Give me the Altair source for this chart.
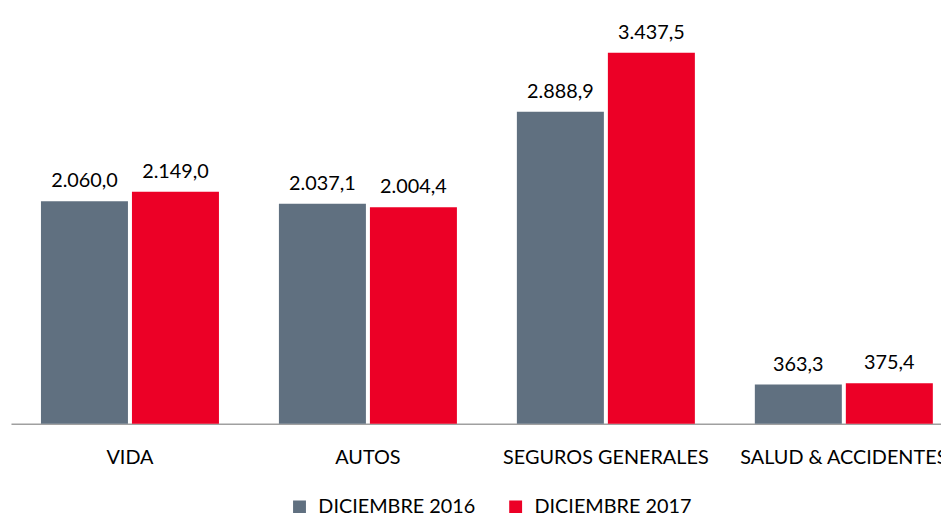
import altair as alt
import pandas as pd

categories = ["VIDA", "AUTOS", "SEGUROS GENERALES", "SALUD & ACCIDENTES"]
series = ["DICIEMBRE 2016", "DICIEMBRE 2017"]
values_2016 = [2060.0, 2037.1, 2888.9, 363.3]
values_2017 = [2149.0, 2004.4, 3437.5, 375.4]
colors = ["#607080", "#EC0026"]


def fmt(v):
    s = f"{v:,.1f}"
    return s.replace(",", "X").replace(".", ",").replace("X", ".")


rows = []
for c, a, b in zip(categories, values_2016, values_2017):
    rows.append({"cat": c, "serie": series[0], "val": a, "lbl": fmt(a)})
    rows.append({"cat": c, "serie": series[1], "val": b, "lbl": fmt(b)})
df = pd.DataFrame(rows)

FONT = "Lato"

x = alt.X(
    "cat:N",
    sort=categories,
    title=None,
    scale=alt.Scale(range=[0, 960], paddingInner=0.252, paddingOuter=0.126),
    axis=alt.Axis(
        labelAngle=0,
        labelFont=FONT,
        labelFontSize=20,
        labelColor="#000000",
        labelBaseline="alphabetic",
        labelPadding=40,
        labelLimit=0,
        ticks=False,
        tickSize=0,
        grid=False,
        domainColor="#A0A0A0",
        domainWidth=1.5,
        labelOverlap=False,
        labelBound=False,
        labelFlush=False,
    ),
)
xo = alt.XOffset("serie:N", sort=series, scale=alt.Scale(paddingInner=0.044, paddingOuter=0))
y = alt.Y("val:Q", scale=alt.Scale(domain=[0, 3500]), axis=None)

bars = alt.Chart(df).mark_bar().encode(
    x=x,
    xOffset=xo,
    y=y,
    color=alt.Color(
        "serie:N",
        sort=series,
        scale=alt.Scale(domain=series, range=colors),
        legend=alt.Legend(
            title=None,
            orient="none",
            legendX=281,
            legendY=455,
            direction="horizontal",
            symbolType="square",
            symbolSize=169,
            symbolStrokeWidth=0,
            labelFont=FONT,
            labelFontSize=20,
            labelColor="#000000",
            labelOffset=9,
            labelLimit=0,
            columnPadding=30,
        ),
    ),
)

labels = alt.Chart(df).mark_text(
    font=FONT, fontSize=20, color="#000000", baseline="alphabetic", dy=-14
).encode(x=x, xOffset=xo, y=y, text="lbl:N")

chart = (
    alt.layer(bars, labels)
    .properties(
        width=938,
        height=381,
        autosize=alt.AutoSizeParams(type="none"),
        padding={"left": 3, "top": 36, "right": 0, "bottom": 100},
        view=alt.ViewBackground(stroke="transparent", strokeOpacity=0, strokeWidth=0),
    )
    .configure_view(stroke="transparent", strokeOpacity=0, strokeWidth=0)
    .configure_axis(grid=False)
    .configure(background="#FFFFFF")
)

chart.save("out.html", embed_options={"renderer": "svg", "actions": False})
